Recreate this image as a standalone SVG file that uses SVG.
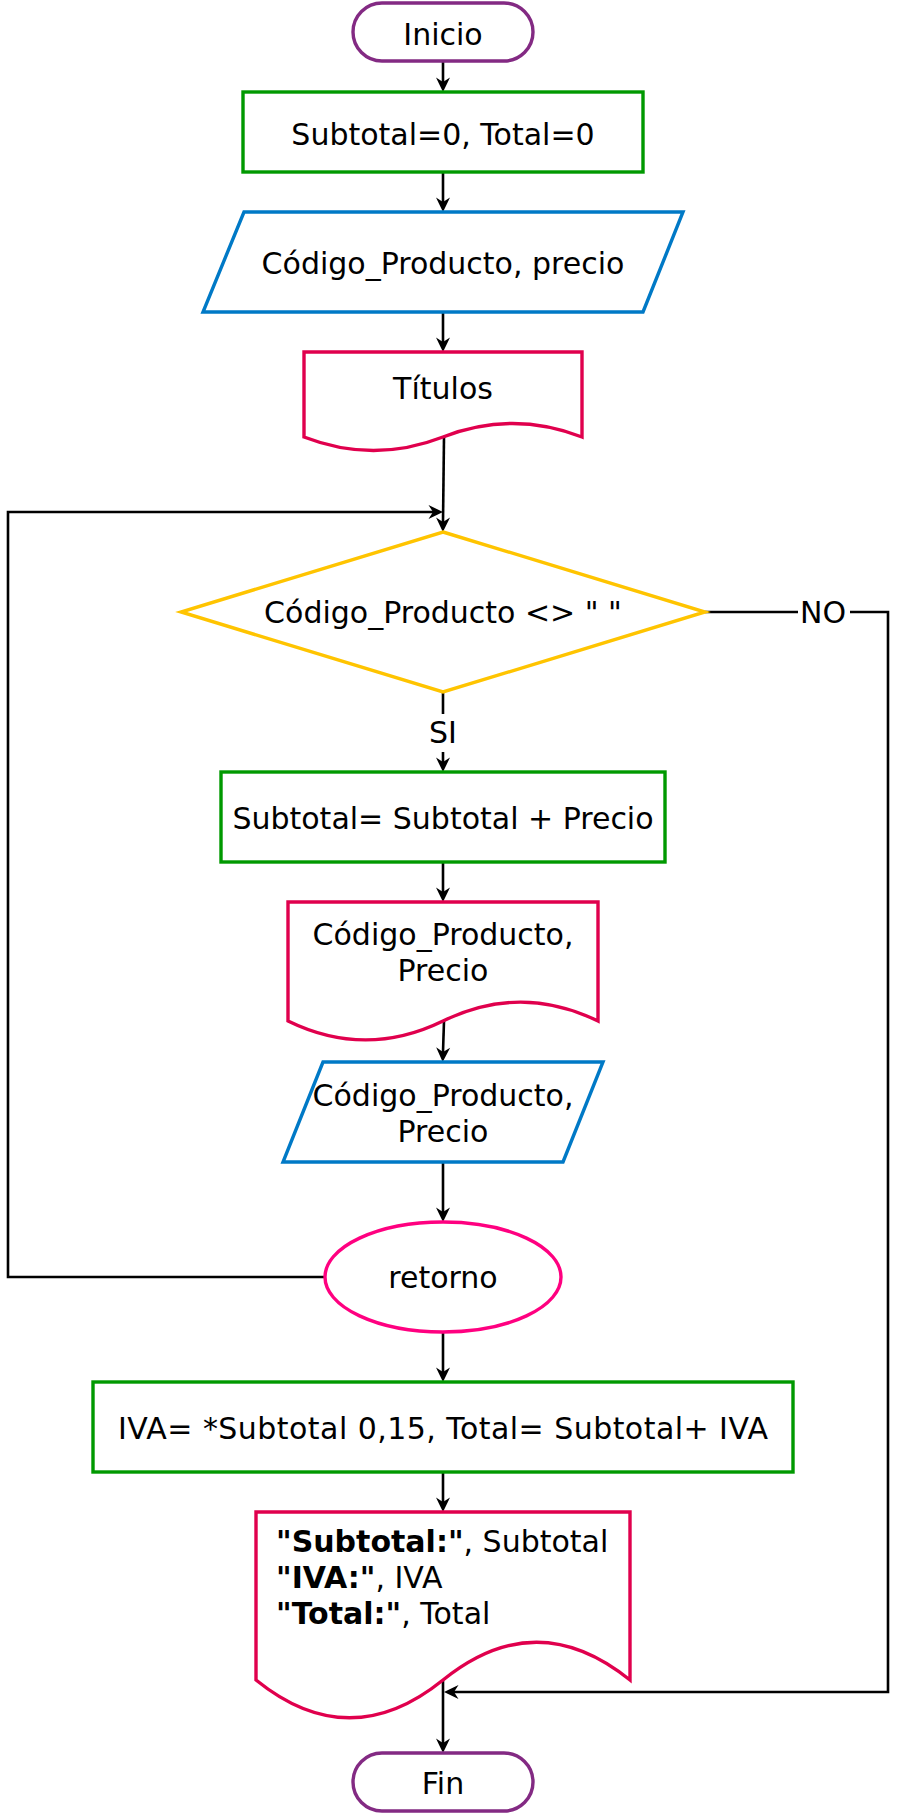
<svg xmlns="http://www.w3.org/2000/svg" width="900" height="1814" viewBox="0 0 900 1814">
<style>
text{font-family:"DejaVu Sans","Liberation Sans",sans-serif;font-size:30px;fill:#000}
.c{text-anchor:middle}
.b{font-weight:bold}
.shape{fill:#fff;stroke-width:3.4}
.term{stroke:#832A83}
.proc{stroke:#009900}
.io{stroke:#0079C6}
.doc{stroke:#E0004D}
.dec{stroke:#FFC400}
.ret{stroke:#FF0080}
.edge{fill:none;stroke:#000;stroke-width:2.6;marker-end:url(#arr)}
.lbl{fill:#fff}
</style>
<defs>
<marker id="arr" viewBox="-5 -8 16 16" markerWidth="16" markerHeight="16" refX="0" refY="0" orient="auto" markerUnits="userSpaceOnUse">
<path d="M10,0 L-4.5,-7 L0,0 L-4.5,7 Z" fill="#000"/>
</marker>
</defs>
<rect width="900" height="1814" fill="#fff"/>
<g id="connectors">
<path class="edge" d="M443,61 L443,82"/>
<path class="edge" d="M443,172 L443,202"/>
<path class="edge" d="M443,312 L443,342"/>
<path class="edge" d="M444,437 L443,522"/>
<path class="edge" d="M443,692 L443,762"/>
<path class="edge" d="M443,862 L443,892"/>
<path class="edge" d="M444,1021 L443,1052"/>
<path class="edge" d="M443,1162 L443,1212"/>
<path class="edge" d="M443,1332 L443,1372"/>
<path class="edge" d="M443,1472 L443,1502"/>
<path class="edge" d="M443,1680 L443,1743"/>
<path class="edge" d="M325,1277 L8,1277 L8,512 L433,512"/>
<path class="edge" d="M705,612 L888,612 L888,1692 L454,1692"/>
<rect class="lbl" x="425" y="714" width="37" height="38"/>
<text class="c" x="443" y="743">SI</text>
<rect class="lbl" x="798" y="596" width="52" height="34"/>
<text class="c" x="823" y="623">NO</text>
</g>
<g id="inicio">
<rect class="shape term" x="353" y="3" width="180" height="58" rx="29" ry="29"/>
<text class="c" x="443" y="45">Inicio</text>
</g>
<g id="init">
<rect class="shape proc" x="243" y="92" width="400" height="80"/>
<text class="c" x="443" y="145">Subtotal=0, Total=0</text>
</g>
<g id="input1">
<polygon class="shape io" points="244,212 683,212 643,312 203,312"/>
<text class="c" x="443" y="274">Código_Producto, precio</text>
</g>
<g id="titulos">
<path class="shape doc" d="M304,352 L582,352 L582,437 Q512.5,410 443,437 Q373.5,464 304,437 Z"/>
<text class="c" x="443" y="399">Títulos</text>
</g>
<g id="decision">
<polygon class="shape dec" points="443,532 705,612 443,692 181,612"/>
<text class="c" x="443" y="623">Código_Producto &lt;&gt; " "</text>
</g>
<g id="suma">
<rect class="shape proc" x="221" y="772" width="444" height="90"/>
<text class="c" x="443" y="829">Subtotal= Subtotal + Precio</text>
</g>
<g id="doc2">
<path class="shape doc" d="M288,902 L598,902 L598,1021 Q520.5,983.2 443,1021 Q365.5,1058.8 288,1021 Z"/>
<text class="c" x="443" y="945">Código_Producto,</text>
<text class="c" x="443" y="981">Precio</text>
</g>
<g id="input2">
<polygon class="shape io" points="323,1062 603,1062 563,1162 283,1162"/>
<text class="c" x="443" y="1106">Código_Producto,</text>
<text class="c" x="443" y="1142">Precio</text>
</g>
<g id="retorno">
<ellipse class="shape ret" cx="443" cy="1277" rx="118" ry="55"/>
<text class="c" x="443" y="1288">retorno</text>
</g>
<g id="iva">
<rect class="shape proc" x="93" y="1382" width="700" height="90"/>
<text class="c" x="443" y="1439" textLength="650" lengthAdjust="spacing">IVA= *Subtotal 0,15, Total= Subtotal+ IVA</text>
</g>
<g id="doc3">
<path class="shape doc" d="M256,1512 L630,1512 L630,1680 Q536.5,1604.4 443,1680 Q349.5,1755.6 256,1680 Z"/>
<text x="276" y="1552"><tspan class="b">"Subtotal:"</tspan>, Subtotal</text>
<text x="276" y="1588"><tspan class="b">"IVA:"</tspan>, IVA</text>
<text x="276" y="1624"><tspan class="b">"Total:"</tspan>, Total</text>
</g>
<g id="fin">
<rect class="shape term" x="353" y="1753" width="180" height="58" rx="29" ry="29"/>
<text class="c" x="443" y="1794">Fin</text>
</g>
</svg>
